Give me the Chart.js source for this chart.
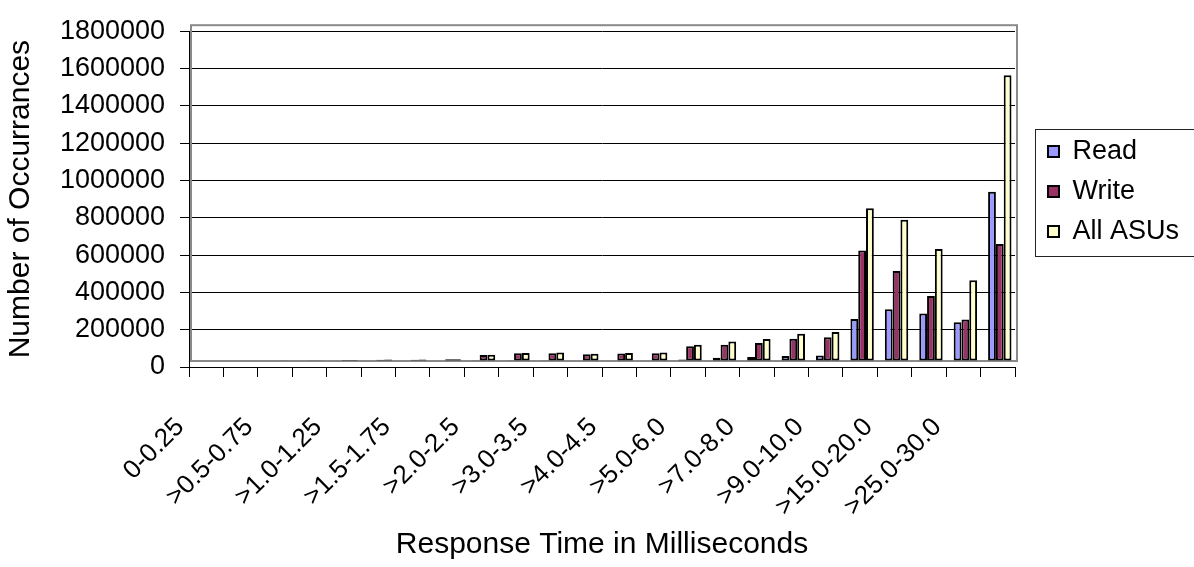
<!DOCTYPE html>
<html>
<head>
<meta charset="utf-8">
<script src="https://cdn.jsdelivr.net/npm/chart.js@4.4.1/dist/chart.umd.min.js"></script>
<style>
  html, body { margin: 0; padding: 0; background: #ffffff; }
  #wrap { width: 1194px; height: 567px; }
</style>
</head>
<body>
<div id="wrap"><canvas id="c" width="1194" height="567"></canvas></div>
<script>
const CATEGORIES = ['0-0.25', '>0.25-0.5', '>0.5-0.75', '>0.75-1.0', '>1.0-1.25', '>1.25-1.5',
  '>1.5-1.75', '>1.75-2.0', '>2.0-2.5', '>2.5-3.0', '>3.0-3.5', '>3.5-4.0', '>4.0-4.5',
  '>4.5-5.0', '>5.0-6.0', '>6.0-7.0', '>7.0-8.0', '>8.0-9.0', '>9.0-10.0', '>10.0-15.0',
  '>15.0-20.0', '>20.0-25.0', '>25.0-30.0', '>30.0'];
const READ = [0, 0, 0, 0, 0, 0, 0, 0, 1500, 1500, 2000, 2500, 2500, 3000, 8000, 18000,
  21000, 27000, 30000, 225000, 277000, 255000, 208000, 907000];
const WRITE = [0, 0, 3000, 4000, 5000, 7000, 7000, 9000, 32000, 41000, 41000, 36000, 40000,
  41000, 79000, 87000, 97000, 119000, 127000, 592000, 483000, 348000, 223000, 627000];
const ALL_ASUS = [0, 0, 3500, 4500, 5500, 7500, 8000, 10000, 34000, 43000, 45000, 39000, 43000,
  45000, 87000, 105000, 118000, 146000, 156000, 819000, 757000, 600000, 433000, 1532000];
const SERIES_NAMES = ['Read', 'Write', 'All ASUs'];
const Y_TICK_VALUES = [0, 200000, 400000, 600000, 800000, 1000000, 1200000, 1400000, 1600000, 1800000];
const X_TICK_LABELS = CATEGORIES.map((c, i) => (i % 2 === 0 ? c : ''));

const FONT = "'Liberation Sans', Arial, sans-serif";
Chart.defaults.font.family = FONT;
Chart.defaults.color = '#000000';

const decor = {
  id: 'decor',
  beforeLayout(chart) {
    const lg = chart.legend;
    if (lg && !lg._fixedWidth) {
      const f = lg.fit;
      lg.fit = function () { f.call(this); this.width = 179; };
      lg._fixedWidth = true;
    }
  },
  beforeDraw(chart) {
    const lg = chart.legend;
    const a = chart.chartArea;
    if (lg) {
      const w = lg.width, h = lg.height;
      lg.left = a.right + 20; lg.right = lg.left + w;
      lg.top = 125; lg.bottom = lg.top + h;
    }
  },
  beforeDatasetsDraw(chart) {
    const { ctx, chartArea: a } = chart;
    ctx.save();
    ctx.strokeStyle = '#8a8a8a';
    ctx.lineWidth = 2;
    ctx.strokeRect(a.left + 2, a.top - 6, a.right - a.left, a.bottom - a.top);
    ctx.restore();
    ctx.save();
    ctx.translate(2, -6);
  },
  afterDatasetsDraw(chart) {
    chart.ctx.restore();
  },
  afterDraw(chart) {
    const { ctx } = chart;
    const a = chart.chartArea;
    ctx.save();
    ctx.strokeStyle = '#222';
    ctx.lineWidth = 1;
    ctx.strokeRect(a.right + 20.5, 129.5, 400, 127);
    ctx.restore();
  }
};

const ctx = document.getElementById('c').getContext('2d');
new Chart(ctx, {
  type: 'bar',
  data: {
    labels: CATEGORIES,
    datasets: [
      { label: SERIES_NAMES[0], data: READ, backgroundColor: '#9999FF', borderColor: '#000', borderWidth: 2, borderSkipped: false },
      { label: SERIES_NAMES[1], data: WRITE, backgroundColor: '#993366', borderColor: '#000', borderWidth: 2, borderSkipped: false },
      { label: SERIES_NAMES[2], data: ALL_ASUS, backgroundColor: '#FFFFCC', borderColor: '#000', borderWidth: 2, borderSkipped: false }
    ]
  },
  options: {
    responsive: false,
    animation: false,
    devicePixelRatio: 1,
    datasets: { bar: { categoryPercentage: 0.68, barPercentage: 1.0 } },
    layout: { padding: { top: 20, left: 0, right: 0, bottom: 0 } },
    plugins: {
      legend: {
        position: 'right',
        align: 'start',
        labels: { boxWidth: 11, boxHeight: 11, padding: 13, color: '#000', font: { size: 27 } }
      },
      tooltip: { enabled: false }
    },
    scales: {
      x: {
        offset: true,
        grid: { display: true, drawOnChartArea: false, drawTicks: true, tickLength: 10, color: '#000', offset: true },
        border: { display: true, color: '#000', width: 1 },
        ticks: {
          autoSkip: false, maxRotation: 45, minRotation: 45, labelOffset: -26, padding: 35,
          font: { size: 26 }, color: '#000',
          callback: (v, i) => X_TICK_LABELS[i]
        },
        title: { display: true, text: 'Response Time in Milliseconds', font: { size: 30 }, color: '#000', padding: { top: 0, bottom: 4 } },
        afterFit: (s) => { s.height = 200; }
      },
      y: {
        min: 0, max: Y_TICK_VALUES[Y_TICK_VALUES.length - 1],
        afterBuildTicks: (s) => { s.ticks = Y_TICK_VALUES.map(v => ({ value: v })); },
        grid: { color: '#000', lineWidth: 1, tickLength: 9 },
        border: { display: true, color: '#000', width: 1 },
        ticks: { padding: 15, font: { size: 27 }, color: '#000', callback: (v) => String(v) },
        title: { display: true, text: 'Number of Occurrances', font: { size: 30 }, color: '#000', padding: { top: 3, bottom: 0 } },
        afterFit: (s) => { s.width = 189; }
      }
    }
  },
  plugins: [decor]
});
</script>
</body>
</html>
